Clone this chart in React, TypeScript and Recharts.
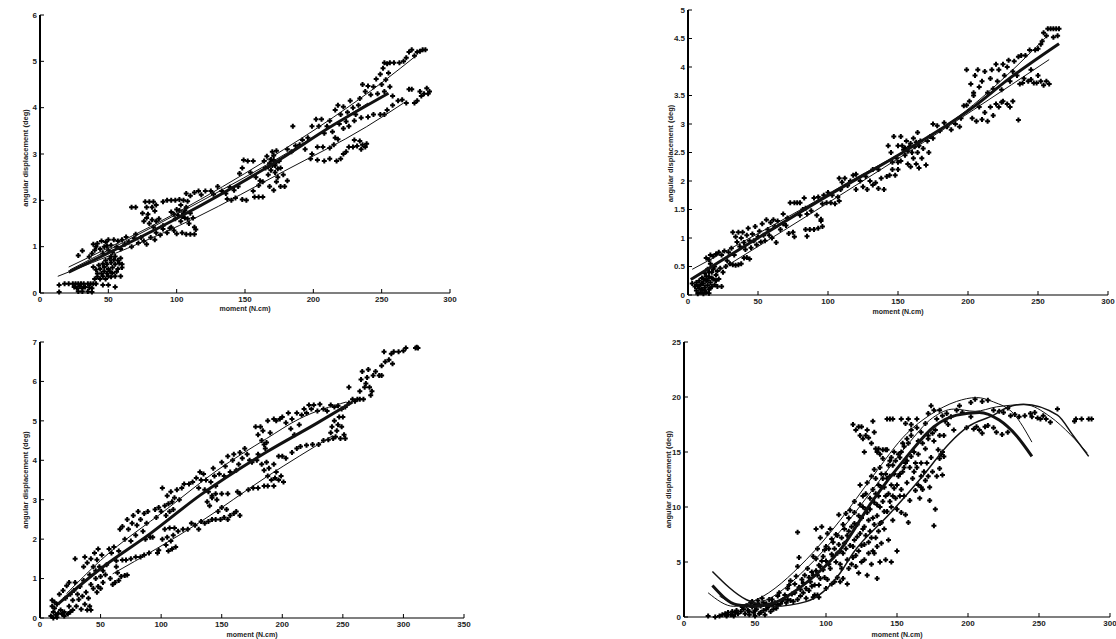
import { ScatterChart, Scatter, XAxis, YAxis } from "recharts"

type Pt = [number, number]

// Readings are [moment, displacement]
const ticksA = [0, 50, 100, 150, 200, 250, 300]
const yTicksA = [0, 1, 2, 3, 4, 5, 6]
const pointsA: Pt[] = [
  [14,.17],[14,.02],[18,.2],[21,.2],[24,.2],[26,.2],[28,.2],[30,.2],[32,.2],[35,.2],[37,.2],[39,.2],[41,.2],[25,.13],[27,.1],[29,.14],[31,.1],[33,.13],[36,.12],[38,.1],[28,.03],[31,.03],[35,.03],[38,.02],[46,.17],[50,.17],[55,.13],
  [40,.3],[42,.35],[44,.3],[46,.36],[48,.3],[50,.36],[52,.35],[55,.36],[59,.36],[42,.42],[45,.42],[47,.47],[49,.42],[51,.47],[53,.43],[56,.46],[41,.5],[44,.52],[47,.56],[50,.52],[53,.55],[57,.52],[60,.55],[39,.56],[43,.6],[46,.63],[49,.62],[52,.66],[55,.62],[58,.64],[60,.62],[48,.7],[51,.74],[54,.72],[57,.7],[59,.75],[55,.79],[52,.79],
  [28,.81],[31,.91],[36,.78],[38,.85],[40,.92],[41,1.0],[39,1.05],[42,1.07],[44,.95],[46,.85],[47,1.0],[48,1.1],[50,.92],[50,1.15],[52,1.03],[53,.88],[54,1.15],[56,1.0],[57,1.12],[59,.95],[60,1.15],[62,1.05],[45,1.12],[49,1.02],
  [63,1.21],[65,1.1],[67,1.0],[69,1.18],[70,1.27],[72,1.08],[74,1.2],[76,1.12],[78,1.05],[81,1.2],[84,1.15],[85,1.3],[88,1.25],[90,1.38],[93,1.3],[95,1.4],[83,1.42],
  [67,1.85],[70,1.85],[75,1.72],[77,1.97],[78,1.85],[79,1.7],[80,1.97],[82,1.85],[83,1.97],[84,1.77],[85,1.9],[76,1.55],[78,1.62],[80,1.5],[82,1.58],[85,1.55],[87,1.6],[90,1.45],
  [90,1.97],[93,2.0],[96,2.0],[99,2.0],[102,2.02],[105,2.0],[108,1.98],[96,1.75],[99,1.6],[100,1.8],[101,1.68],[103,1.9],[103,1.55],[105,1.72],[106,1.62],[107,1.85],[109,1.5],[110,1.72],[112,1.62],[113,1.42],[114,1.37],[100,1.28],[104,1.3],[107,1.27],[110,1.27],[113,1.27],[96,1.42],[98,1.35],[98,1.7],[102,1.78],[104,1.65],[106,1.78],[108,1.6],
  [107,2.15],[110,2.1],[113,2.17],[116,2.2],[118,2.12],[121,2.2],[125,2.2],[127,2.13],[130,2.3],[133,2.2],[136,2.15],[139,2.28],[142,2.22],[145,2.3],[137,2.03],[140,2.0],[143,2.05],[148,2.02],[151,2.0],[157,2.07],[160,2.07],[163,2.07],[156,2.2],[160,2.32],
  [146,2.58],[148,2.7],[149,2.87],[152,2.85],[154,2.6],[156,2.85],[158,2.5],[161,2.42],[163,2.4],
  [164,2.85],[165,2.7],[166,2.95],[167,2.55],[168,2.8],[169,2.65],[170,3.05],[171,2.87],[172,2.6],[172,2.75],[173,3.07],[174,2.5],[175,2.85],[176,2.7],[178,2.55],[168,2.3],[171,2.22],[173,2.4],[176,2.3],[179,2.3],[181,2.42],[167,2.72],[169,2.88],[170,2.75],[171,2.97],[173,2.82],[174,2.68],
  [185,3.6],[181,3.1],[184,3.05],[187,3.18],[190,3.2],[192,3.3],[194,3.1],[196,3.35],[199,3.0],
  [199,3.6],[202,3.75],[204,3.6],[206,3.75],[208,3.45],[210,3.6],[212,3.72],[214,3.48],[216,3.35],[218,3.32],[203,3.15],[207,3.15],[212,3.13],[215,3.2],[198,2.9],[203,2.87],[208,2.85],[212,2.9],[217,2.85],[220,2.9],[222,3.0],[224,3.05],
  [226,3.15],[229,3.15],[232,3.17],[234,3.28],[236,3.2],[238,3.15],[239,3.22],[230,3.3],[235,3.1],
  [216,3.95],[218,4.05],[220,3.85],[222,4.02],[224,3.7],[225,3.9],[227,4.15],[229,4.0],[231,3.85],[233,4.05],[219,3.65],[222,3.55],[226,3.6],[230,3.72],[235,3.78],[240,3.8],[244,3.85],[249,3.85],[252,3.85],
  [234,4.2],[236,4.5],[238,4.35],[240,4.47],[242,4.28],[244,4.45],[246,4.62],[247,4.3],[249,4.72],[250,4.5],[251,4.85],[252,4.35],[253,4.6],[254,4.95],[255,4.75],[256,4.45],[258,4.25],[252,4.97],[256,4.97],[259,4.97],[263,4.97],[266,5.0],[268,5.08],[270,5.2],[272,5.25],[274,5.12],[276,5.2],[278,5.22],[280,5.25],[282,5.25],
  [262,4.15],[265,4.17],[268,4.1],[270,4.4],[272,4.4],[274,4.1],[276,4.15],[278,4.35],[279,4.25],[281,4.3],[283,4.42],[284,4.3],[285,4.35],[258,4.05],[254,3.95],
]
const thickA: Pt[] = [[21,.45],[102,1.64],[171,2.8],[215,3.63],[255,4.31]]
const upperA: Pt[] = [[21,.56],[101,1.75],[166,2.87],[215,3.8],[251,4.56],[276,5.14]]
const middleA: Pt[] = [[22,.5],[100,1.7],[165,2.75],[205,3.45],[240,4.1]]
const lowerA: Pt[] = [[13,.36],[115,1.64],[178,2.62],[239,3.59],[266,4.1]]

const ticksB = [0, 50, 100, 150, 200, 250, 300]
const yTicksB = [0, .5, 1, 1.5, 2, 2.5, 3, 3.5, 4, 4.5, 5]
const pointsB: Pt[] = [
  [3,.2],[5,.15],[6,.08],[6,.22],[7,.02],[8,.12],[8,.25],[9,.05],[9,.18],[10,.1],[10,.3],[11,.02],[11,.2],[12,.13],[12,.38],[13,.05],[13,.25],[14,.17],[14,.45],[15,.03],[15,.1],[15,.32],[16,.22],[16,.55],[17,.15],[17,.4],[18,.28],[19,.18],[19,.5],[20,.35],[21,.15],[21,.42],[22,.28],[23,.47],[24,.15],[25,.4],[7,.16],[10,.2],[11,.28],[12,.08],[13,.33],[14,.26],[15,.4],[16,.12],[17,.3],[18,.45],[20,.25],
  [13,.65],[15,.62],[16,.7],[18,.68],[20,.72],[22,.75],[24,.7],[26,.77],[28,.6],[30,.55],[27,.5],[32,.53],[34,.52],[36,.53],[38,.55],[40,.65],[42,.66],[44,.63],[29,.75],[31,.82],[33,.7],
  [32,1.1],[34,1.02],[35,.93],[36,1.1],[37,.85],[38,1.0],[39,1.1],[40,.92],[41,.8],[42,1.05],[43,1.17],[44,.95],[45,.83],[46,1.07],[47,.95],[48,1.2],[49,.88],[50,1.02],[51,1.12],[52,.93],[53,1.25],[54,1.05],[55,.95],[56,1.32],[57,1.15],[58,1.05],[59,1.27],[60,1.0],[61,1.32],[62,1.2],[63,.92],[64,1.3],[66,1.15],[68,1.25],[70,1.22],[72,1.08],[75,1.1],[76,1.02],
  [68,1.42],[71,1.35],[73,1.62],[76,1.62],[78,1.62],[80,1.4],[80,1.62],[82,1.5],[84,1.52],[83,1.7],[85,1.42],[88,1.48],[90,1.7],[92,1.4],[93,1.72],[95,1.3],[96,1.2],[96,1.6],[97,1.75],[99,1.62],[100,1.8],[102,1.62],[103,1.75],[105,1.6],[107,1.72],[108,1.65],[84,1.15],[87,1.15],[90,1.15],[93,1.17],[85,1.03],[95,1.33],[109,1.85],
  [108,2.05],[110,1.98],[112,2.05],[114,1.92],[116,2.0],[118,2.1],[120,2.12],[120,1.85],[123,2.0],[125,1.9],[127,2.08],[128,1.85],[130,2.0],[132,2.2],[134,1.97],[136,2.2],[138,2.05],[140,1.85],[142,2.08],[144,2.1],[146,2.2],[148,2.1],[150,2.2],[132,1.93],[136,1.87],
  [143,2.62],[145,2.5],[147,2.78],[149,2.4],[150,2.62],[152,2.35],[152,2.78],[154,2.55],[155,2.45],[156,2.7],[157,2.3],[158,2.6],[159,2.25],[160,2.5],[161,2.75],[161,2.4],[162,2.6],[163,2.3],[164,2.85],[164,2.5],[165,2.23],[166,2.7],[167,2.4],[168,2.57],[170,2.28],[171,2.7],[172,2.5],[173,2.78],[175,2.75],[146,2.33],[150,2.33],[153,2.62],[155,2.58],[157,2.52],[159,2.66],[163,2.68],[165,2.62],
  [175,3.0],[178,2.97],[180,2.88],[183,3.02],[185,2.95],[188,2.9],[191,3.0],[194,2.95],[195,3.1],[197,3.32],[199,3.33],[201,3.4],[203,3.1],[204,3.5],[206,3.05],[208,3.3],[210,3.08],[212,3.2],[214,3.05],[216,3.3],[218,3.15],[220,3.35],[222,3.3],[224,3.38],[225,3.4],[228,3.35],[230,3.3],[232,3.4],[236,3.07],
  [199,3.95],[202,3.7],[204,3.55],[205,3.85],[207,3.95],[208,3.65],[210,3.75],[212,3.92],[214,3.55],[216,3.8],[217,3.95],[218,3.62],[220,4.05],[221,3.75],[222,3.95],[224,3.6],[225,4.05],[226,3.85],[228,4.0],[229,4.12],[230,3.75],[232,3.92],[233,4.1],[235,3.85],[236,4.18],[238,4.2],[240,3.8],[241,4.2],[237,3.7],[239,3.72],[243,3.75],[245,3.78],[247,3.72],[249,3.72],[252,3.75],[254,3.68],[256,3.75],[258,3.7],[250,3.85],
  [244,4.3],[245,3.95],[248,4.3],[250,4.32],[252,4.4],[253,4.45],[254,4.6],[256,4.55],[257,4.67],[259,4.67],[261,4.67],[263,4.67],[265,4.67],[261,4.52],[264,4.55],
]
const thickB: Pt[] = [[2,.27],[99,1.73],[156,2.54],[204,3.3],[228,3.77],[265,4.41]]
const upperB: Pt[] = [[3,.45],[109,1.9],[204,3.34],[228,3.86],[256,4.53]]
const lowerB: Pt[] = [[23,.44],[204,3.25],[258,4.13]]

const ticksC = [0, 50, 100, 150, 200, 250, 300, 350]
const yTicksC = [0, 1, 2, 3, 4, 5, 6, 7]
const pointsC: Pt[] = [
  [9,.05],[10,.3],[10,.45],[11,.15],[11,0],[12,.25],[12,.4],[13,.08],[14,.35],[14,.02],[15,.12],[16,.6],[17,.2],[18,.1],[19,.7],[20,.05],[20,.15],[21,.5],[22,.82],[23,.1],[24,.3],[24,.9],[25,.15],[25,.6],[27,.45],[27,.2],[28,.7],[29,.9],[30,.3],[31,.6],[32,.47],[33,.8],[34,.22],[35,.55],[36,.95],[37,.35],[38,.65],[39,.2],[40,.5],[41,.3],[42,.85],[42,.2],[44,.75],[46,1.0],[47,.65],[48,.8],[50,.75],[52,.9],
  [29,1.5],[36,1.3],[37,1.55],[39,1.4],[41,1.1],[42,1.5],[44,1.3],[45,1.65],[46,1.2],[47,1.48],[48,1.75],[49,1.3],[50,1.05],[51,1.6],[52,1.2],[54,1.1],[55,1.35],[57,1.75],[59,1.65],[61,1.8],[63,1.3],[64,1.15],[65,1.7],[62,.9],[65,.95],[67,1.05],[70,1.08],[72,1.09],[58,1.0],[60,.85],[63,1.45],[68,1.47],[71,1.47],[75,1.5],[79,1.55],[83,1.55],[86,1.6],[90,1.65],[97,1.65],[98,1.72],
  [66,2.25],[68,2.32],[70,2.0],[72,2.5],[73,2.25],[75,1.95],[76,2.4],[77,2.6],[79,2.1],[80,2.35],[81,2.7],[83,2.5],[85,2.2],[86,2.65],[87,2.0],[88,2.4],[89,2.7],[91,2.05],[93,2.05],[95,2.75],[96,2.55],[98,2.8],[100,2.7],[101,3.3],[103,2.85],[104,2.6],[105,3.1],[106,2.9],[107,2.7],[108,3.2],[109,2.95],[110,2.75],[111,3.05],[113,3.25],[115,3.0],[117,3.3],[119,3.4],
  [101,2.0],[103,2.25],[104,1.85],[105,2.05],[106,1.7],[107,2.28],[108,1.95],[109,1.75],[110,2.1],[111,2.28],[112,1.8],[114,2.2],[118,2.25],[122,2.25],[125,2.4],[128,2.35],[131,2.25],[133,2.45],[136,2.4],[139,2.45],[142,2.5],[145,2.5],[147,2.7],[149,2.5],[150,2.8],[152,2.55],[154,2.75],[155,2.5],[157,2.6],[160,2.65],[162,2.7],[165,2.6],
  [123,3.4],[126,3.45],[129,3.55],[131,3.3],[132,3.7],[133,3.5],[135,3.65],[136,3.25],[137,3.5],[138,2.95],[139,3.2],[140,2.85],[141,3.45],[142,3.05],[143,3.8],[144,3.6],[145,3.35],[146,3.0],[148,3.65],[150,3.95],[152,3.6],[153,3.85],[155,4.1],[157,3.7],[159,4.0],[160,4.15],[162,3.75],[164,3.9],[165,4.2],[167,4.05],[169,4.3],[171,4.15],[173,4.0],[175,3.95],
  [142,3.1],[145,3.15],[150,3.15],[155,3.15],[163,3.2],[165,3.15],[172,3.25],[176,3.3],[180,3.3],[185,3.35],[188,3.35],[193,3.35],
  [178,4.85],[180,4.65],[182,4.85],[183,4.5],[184,4.75],[185,4.4],[186,4.3],[187,4.45],[188,5.0],[190,4.7],[193,5.05],[195,5.0],[180,4.15],[179,4.0],[183,3.9],[185,3.75],[187,3.95],[188,3.6],[189,3.8],[191,3.5],[193,3.9],[194,3.55],[195,3.7],[197,3.5],[199,3.6],[201,3.45],
  [197,4.1],[200,4.1],[203,4.05],[208,4.2],[212,4.3],[215,4.35],[220,4.38],[225,4.4],[230,4.4],[234,4.5],[238,4.52],
  [198,5.05],[200,5.1],[203,4.95],[205,5.2],[207,4.8],[208,5.05],[210,4.65],[212,5.2],[214,4.9],[216,5.15],[218,5.3],[220,5.2],[222,5.4],[224,5.3],[226,5.4],[229,5.25],[231,5.42],[234,5.3],[237,5.25],[240,5.4],[243,5.35],[246,5.38],[249,5.3],[252,5.35],
  [240,4.7],[241,4.85],[242,4.55],[243,5.0],[244,4.6],[245,4.75],[246,4.9],[247,5.1],[248,4.55],[249,4.85],[250,5.1],[251,4.65],[252,4.55],
  [255,5.45],[258,5.55],[260,5.5],[262,5.55],[264,5.55],[255,5.85],[264,5.75],[265,6.05],[266,6.25],[267,5.55],[268,5.85],[269,5.95],[270,6.1],[271,6.3],[272,5.85],[273,5.65],[274,5.75],[275,6.15],[277,6.25],[280,6.15],[282,6.4],[285,6.5],[282,6.15],
  [284,6.75],[288,6.55],[290,6.7],[291,6.45],[292,6.75],[296,6.75],[300,6.78],[302,6.85],[310,6.85],[311,6.87],[312,6.85],
]
const thickC: Pt[] = [[15,.36],[50,1.25],[91,2.14],[132,3.11],[187,4.21],[228,4.93],[258,5.48]]
const upperC: Pt[] = [[22,.62],[50,1.46],[105,2.77],[146,3.74],[187,4.55],[214,5.05],[253,5.48]]
const lowerC: Pt[] = [[60,1.12],[132,2.43],[187,3.58],[242,4.63]]

const ticksD = [0, 50, 100, 150, 200, 250, 300]
const yTicksD = [0, 5, 10, 15, 20, 25]
const pointsD: Pt[] = [
  [17,.1],[22,0],[25,.1],[27,.2],[29,.3],[30,.1],[31,.4],[33,.2],[34,.5],[35,.1],[37,.6],[38,.3],[40,.5],[41,.9],[43,.3],[44,1],[45,.6],[46,.2],[47,1.3],[48,.9],[49,.4],[50,.1],[50,1.1],[51,.7],[52,1.5],[53,.3],[54,1],[55,1.7],[56,.6],[57,.2],[58,1.2],[59,.9],[60,1.6],[61,.5],[62,1.1],[64,1.3],[65,.8],[66,1.9],[68,1.2],[70,1.6],[72,1.3],[73,2.6],[75,1.5],[75,3.3],[77,1.4],[78,2.2],[79,3.7],[80,1.6],[80,4.6],[81,2.7],[82,1.9],[83,3.4],[84,2.2],[85,3.8],[86,1.7],[87,4.4],[88,2.4],[89,3.2],[90,4.1],[91,1.8],[92,2.9],[93,5.3],[94,3.8],[94,2],[95,1.8],[96,4.6],
  [80,7.7],[81,5.4],[91,5.5],[93,8],[94,6.2],[95,4.7],[96,7.2],[97,8.2],[98,5.5],[99,3.6],[100,6.4],[101,7.6],[102,4.8],[103,8],[104,5.7],[105,6.8],[106,3.2],[107,5],[108,7.4],[109,9.3],[110,6],[110,3.2],[111,4.4],[112,8.4],[113,6.7],[114,9.4],[115,5.2],[115,3],[116,7.8],[117,9.7],[118,4.8],[119,6.4],[120,8.5],[120,10.5],[121,5.6],[122,7.3],[123,9.2],[123,4],[124,12],[125,6.5],[126,10],[127,8.2],[127,5.2],[128,11.2],[129,3.8],[129,9.5],[130,6.8],[131,10.8],[131,7.8],[132,4.8],[132,12.8],[133,9],[134,5.8],[134,13.4],[135,11.2],[135,7.2],[136,10.2],[136,3.5],[137,12],[138,8.5],[138,5],[139,13],[139,6.7],
  [140,10.5],[140,14.4],[141,11.8],[141,8],[142,5.2],[142,13],[143,9.6],[143,15.2],[144,11.2],[144,7],[145,12.8],[145,14.2],[146,5],[146,10],[147,8.8],[147,13.8],[148,15],[148,11.7],[150,9.8],[150,6],[151,12.8],[152,14.5],[152,11],[153,9.5],[154,13.2],[154,15.8],[155,11],[156,14],[156,9.3],[157,16.2],[157,12.2],[158,8.6],[159,13.6],[159,10.6],[160,16.5],[160,17],[161,12.6],[162,15],[163,11.5],[164,13.6],[164,17.2],[165,12],[165,16],[166,10.8],[167,14],[167,12.8],[168,11.6],[169,13.2],[170,15.3],[172,16.5],[172,12.8],[173,10.6],[174,14.5],[176,16],[176,8.3],[177,9.8],[178,12.8],[179,15.2],[180,13.5],[181,14.8],[182,12.9],[183,14.6],
  [119,17.5],[121,17],[123,17.3],[124,16.5],[125,17.3],[126,16.2],[127,15],[128,16.5],[129,17],[130,16.3],[132,15.8],[133,17.8],[134,16.8],[135,15.3],[136,15],[137,15.3],[138,14.8],[140,15.2],[142,15.2],[143,18],[145,18],[147,18],[153,18],[156,17.6],[158,18],[160,17.5],[164,18],[167,16.8],[170,17.6],[172,16.2],[175,16.7],[177,17],[180,16.5],[183,16.5],
  [172,18.5],[174,19.2],[176,18.8],[178,18],[180,18.8],[182,18.3],[184,17.8],[185,18.5],[186,17.5],[188,18.2],[190,17],[192,18.8],[194,19.2],[196,18.6],[199,17.2],[202,18.2],[204,17.1],[206,17.3],[208,17],[210,16.7],[212,17.3],[214,17.4],[218,17.2],[220,16.8],[224,16.6],[228,16.8],
  [202,19.5],[205,19.8],[210,19.6],[214,19.7],[218,18.8],[222,18.7],[225,18.6],[228,19],[230,18.3],[233,18.4],[236,18.2],[240,18.3],[244,18.5],[245,18.2],[247,18.6],[249,18.1],[251,18],[253,18.3],[255,18],[258,17.7],[263,18.9],[275,17.8],[276,18],[280,18],[285,18],[287,18],
]
// Second pass over the densest part of the cloud in the lower right panel
const denseD: Pt[] = [
  [30,.2],[36,.4],[42,.7],[46,.5],[48,1.4],[50,.6],[52,1.2],[54,.4],[56,1.3],[58,.7],[60,1],[62,1.6],[63,.7],[66,1.1],[67,2.2],[69,1.5],[71,2],[73,1.6],[74,2.9],[76,2.1],[78,3],[82,2.5],[84,3.1],[86,2.6],[88,3.6],[90,2.8],[91,3.8],[92,2],[93,4.2],[95,2.9],[96,3.5],[97,5.1],[98,4.3],[99,6.1],[100,2.6],[100,5.1],[101,3.4],[102,6.2],[103,4.4],[104,7.1],[104,3],[105,5.5],[106,6.2],[107,7.5],[108,3.6],[108,5.8],[109,6.6],[110,4.8],[111,7.2],[112,5.8],[112,3.5],[113,8],[114,6.2],[115,7.4],[116,4.4],[116,9],[117,6.5],[118,8.2],[119,5.4],[120,7],[120,9.5],[121,4.6],[122,8.4],[123,6],[124,10.2],[124,7.6],[125,5],[125,9],[126,8],[126,11],[127,6.6],[128,9.8],[128,7.4],[129,12.2],[130,8.8],[130,5.8],[131,9.8],[132,7.2],[133,11.6],[133,6],[134,8.4],[134,10.4],[135,12.6],[136,9.2],[136,6.4],[137,11],[137,7.8],[138,10],[138,13.6],[139,11.8],[139,8.6],[140,12.6],[141,9.6],[142,11],[143,12.6],[144,13.8],[145,10.5],[146,12],[146,14.5],[147,11],[148,13],[149,10.8],[149,14.2],[150,12],[151,14.8],[152,13],[153,11.6],[153,15],[155,13.6],[155,15.5],[157,14.2],[158,15.8],[160,14.6],[162,13.2],[163,14],[165,14.8],[167,11.8],[168,15.8],[170,12.4],[171,14],[173,11.8],[175,13.2],[180,14.4],[182,15],
]
const thickD: Pt[] = [[20,2.87],[37,1.12],[49,.97],[63,1.27],[86,3.1],[110,6.1],[133,10.6],[157,14.6],[176,17.3],[192,18.35],[208,18.6],[222,17.9],[234,16.5],[245,14.6]]
const risingD: Pt[] = [[20,4.14],[44,1.57],[63,.97],[86,1.4],[110,4],[119,5.8],[145,9.4],[168,12.8],[187,15.8],[200,17.3],[218,18.35],[227,19],[239,19.35],[263,18.35],[274,16.5],[285,14.6]]
const upperD: Pt[] = [[17,2.2],[35,.97],[51,1.57],[86,5.2],[110,8.8],[133,12.8],[157,16.7],[173,18.35],[192,19.6],[206,19.95],[218,19.55],[232,18.5],[245,15.9]]
const innerD: Pt[] = [[25,1.9],[40,1.1],[55,1.4],[86,4.4],[110,7.8],[133,11.6],[157,15.6],[175,18.1],[190,18.9],[205,18.7],[220,19.1],[240,19.3],[258,18.2],[272,16.6],[284,14.9]]

const axisFont = "'Liberation Sans', Arial, sans-serif"

const PlusMark = ({ cx, cy }: any) => (
  <path d={`M${cx - 2.5} ${cy}H${cx + 2.5}M${cx} ${cy - 2.5}V${cy + 2.5}`} stroke="#000" strokeWidth={2} />
)

const NoMark = () => <g />

const XTick = ({ x, y, payload }: any) => (
  <g>
    <line x1={x} x2={x} y1={y - 3} y2={y - 7} stroke="#000" />
    <text x={x} y={y} dy="0.71em" textAnchor="middle" fontSize={8} fontWeight="bold" fontFamily={axisFont} fill="#222">
      {payload.value}
    </text>
  </g>
)

const YTick = ({ x, y, payload }: any) => (
  <g>
    <line x1={x + 3} x2={x + 7} y1={y} y2={y} stroke="#000" />
    <text x={x} y={y} dy="0.35em" textAnchor="end" fontSize={8} fontWeight="bold" fontFamily={axisFont} fill="#222">
      {payload.value}
    </text>
  </g>
)

interface Fit {
  points: Pt[]
  width: number
}

interface PanelProps {
  left: number
  top: number
  width: number
  height: number
  plotLeft: number
  plotTop: number
  plotBottom: number
  plotRight: number
  xMax: number
  yMax: number
  xTicks: number[]
  yTicks: number[]
  points: Pt[]
  fits: Fit[]
  xLabelOffset: number
  yLabelDx: number
  yLabelDy: number
}

const toRows = (list: Pt[]) => list.map(([x, y]) => ({ x, y }))

function Panel(p: PanelProps) {
  return (
    <div style={{ position: "absolute", left: p.left, top: p.top }}>
      <ScatterChart
        width={p.width}
        height={p.height}
        margin={{ left: 0, top: p.plotTop, right: p.width - p.plotRight, bottom: 0 }}
      >
        <XAxis
          type="number"
          dataKey="x"
          domain={[0, p.xMax]}
          ticks={p.xTicks}
          interval={0}
          height={p.height - p.plotBottom}
          tickSize={0}
          tickMargin={3}
          tickLine={false}
          tick={<XTick />}
          axisLine={{ stroke: "#000", strokeWidth: 1.2 }}
          label={{
            value: "moment  (N.cm)",
            position: "insideBottom",
            offset: p.xLabelOffset,
            fontSize: 7,
            fontWeight: "bold",
            fontFamily: axisFont,
            fill: "#222",
          }}
        />
        <YAxis
          type="number"
          dataKey="y"
          domain={[0, p.yMax]}
          ticks={p.yTicks}
          interval={0}
          width={p.plotLeft}
          tickSize={0}
          tickMargin={3}
          tickLine={false}
          tick={<YTick />}
          axisLine={{ stroke: "#000", strokeWidth: 2 }}
          label={{
            value: "angular displacement  (deg)",
            angle: -90,
            position: "insideLeft",
            fontSize: 7.5,
            fontWeight: "bold",
            fontFamily: axisFont,
            fill: "#222",
            dx: p.yLabelDx,
            dy: p.yLabelDy,
            textAnchor: "middle",
          }}
        />
        <Scatter data={toRows(p.points)} shape={<PlusMark />} isAnimationActive={false} />
        {p.fits.map((fit, i) => (
          <Scatter
            key={i}
            data={toRows(fit.points)}
            shape={<NoMark />}
            line={{ stroke: "#111", strokeWidth: fit.width }}
            lineJointType="monotoneX"
            isAnimationActive={false}
          />
        ))}
      </ScatterChart>
    </div>
  )
}

export default function App() {
  return (
    <div style={{ position: "absolute", left: 0, top: 0, width: 1116, height: 639, overflow: "hidden", background: "#fff" }}>
      <Panel
        left={0} top={0} width={480} height={320}
        plotLeft={40} plotTop={15} plotBottom={293} plotRight={450}
        xMax={300} yMax={6} xTicks={ticksA} yTicks={yTicksA}
        points={pointsA}
        fits={[{ points: upperA, width: 1 }, { points: middleA, width: 1 }, { points: lowerA, width: 1 }, { points: thickA, width: 3 }]}
        xLabelOffset={9} yLabelDx={20} yLabelDy={4}
      />
      <Panel
        left={640} top={0} width={476} height={320}
        plotLeft={48} plotTop={10} plotBottom={295} plotRight={468}
        xMax={300} yMax={5} xTicks={ticksB} yTicks={yTicksB}
        points={pointsB}
        fits={[{ points: upperB, width: 1 }, { points: lowerB, width: 1 }, { points: thickB, width: 3 }]}
        xLabelOffset={6} yLabelDx={25} yLabelDy={1}
      />
      <Panel
        left={0} top={320} width={490} height={319}
        plotLeft={40} plotTop={22} plotBottom={298} plotRight={464}
        xMax={350} yMax={7} xTicks={ticksC} yTicks={yTicksC}
        points={pointsC}
        fits={[{ points: upperC, width: 1 }, { points: lowerC, width: 1 }, { points: thickC, width: 3 }]}
        xLabelOffset={2} yLabelDx={20} yLabelDy={0}
      />
      <Panel
        left={640} top={320} width={476} height={319}
        plotLeft={44} plotTop={22} plotBottom={297} plotRight={470}
        xMax={300} yMax={25} xTicks={ticksD} yTicks={yTicksD}
        points={[...pointsD, ...denseD]}
        fits={[{ points: upperD, width: 1 }, { points: innerD, width: 1 }, { points: risingD, width: 1.5 }, { points: thickD, width: 3 }]}
        xLabelOffset={2} yLabelDx={23} yLabelDy={0}
      />
    </div>
  )
}
